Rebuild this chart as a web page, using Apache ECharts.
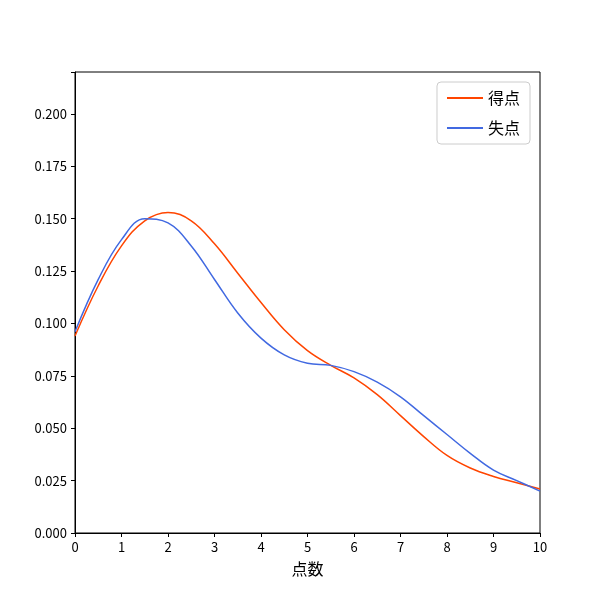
<!DOCTYPE html>
<html>
<head>
<meta charset="utf-8">
<script src="https://cdn.jsdelivr.net/npm/echarts@6/dist/echarts.min.js"></script>
<style>html,body{margin:0;padding:0;background:#fff}#chart{width:600px;height:600px}</style>
</head>
<body>
<div id="chart"></div>
<script>
// x positions of the density estimate
var xs = [0, 0.5, 1, 1.5, 2, 2.5, 3, 3.5, 4, 4.5, 5, 5.5, 6, 6.5, 7, 7.5, 8, 8.5, 9, 9.5, 10];
// 得点 density
var scored = [0.094, 0.118, 0.137, 0.149, 0.153, 0.149, 0.138, 0.124, 0.110, 0.097, 0.087, 0.080, 0.074, 0.066, 0.056, 0.046, 0.037, 0.031, 0.027, 0.024, 0.021];
// 失点 density
var conceded = [0.096, 0.121, 0.140, 0.150, 0.148, 0.137, 0.121, 0.105, 0.093, 0.085, 0.081, 0.080, 0.077, 0.072, 0.065, 0.056, 0.047, 0.038, 0.030, 0.025, 0.020];

function pairs(ys) {
  return xs.map(function (x, i) { return [x, ys[i]]; });
}

var font = 'Noto Sans CJK JP';
var myChart = echarts.init(document.getElementById('chart'));
var axisCommon = {
  axisLine: { show: true, onZero: false, lineStyle: { color: '#000' } },
  axisTick: { show: true, inside: false, length: 4, lineStyle: { color: '#000' } },
  axisLabel: { color: '#000', fontSize: 13, fontFamily: font },
  splitLine: { show: false }
};
var option = {
  animation: false,
  textStyle: { fontFamily: font },
  grid: { left: 75, right: 60, top: 72, bottom: 67 },
  legend: {
    right: 70, top: 82, orient: 'vertical',
    data: ['得点', '失点'],
    icon: 'path://M0,0 L40,0 L40,2 L0,2 Z',
    itemWidth: 36, itemHeight: 2, itemGap: 14,
    textStyle: { fontSize: 16, fontFamily: font, color: '#000' },
    borderColor: '#ccc', borderWidth: 1, borderRadius: 4, padding: [8, 10]
  },
  xAxis: Object.assign({
    type: 'value', min: 0, max: 10, interval: 1,
    name: '点数', nameLocation: 'middle', nameGap: 28,
    nameTextStyle: { fontSize: 16, fontFamily: font, color: '#000' }
  }, axisCommon),
  yAxis: Object.assign({
    type: 'value', min: 0, max: 0.22, interval: 0.025
  }, axisCommon, {
    axisLabel: { color: '#000', fontSize: 13, fontFamily: font,
      formatter: function (v) { return v > 0.2001 ? '' : v.toFixed(3); } }
  }),
  series: [
    { name: '得点', type: 'line', smooth: 0.4, showSymbol: false, data: pairs(scored),
      lineStyle: { color: '#ff4500', width: 1.5 }, itemStyle: { color: '#ff4500' } },
    { name: '失点', type: 'line', smooth: 0.4, showSymbol: false, data: pairs(conceded),
      lineStyle: { color: '#4169e1', width: 1.5 }, itemStyle: { color: '#4169e1' } }
  ]
};
myChart.setOption(option);
// top frame and right frame
myChart.setOption({
  graphic: [{
    type: 'rect', shape: { x: 75, y: 72, width: 465, height: 461 },
    style: { fill: 'none', stroke: '#000', lineWidth: 1 }, silent: true
  }]
});
</script>
</body>
</html>
